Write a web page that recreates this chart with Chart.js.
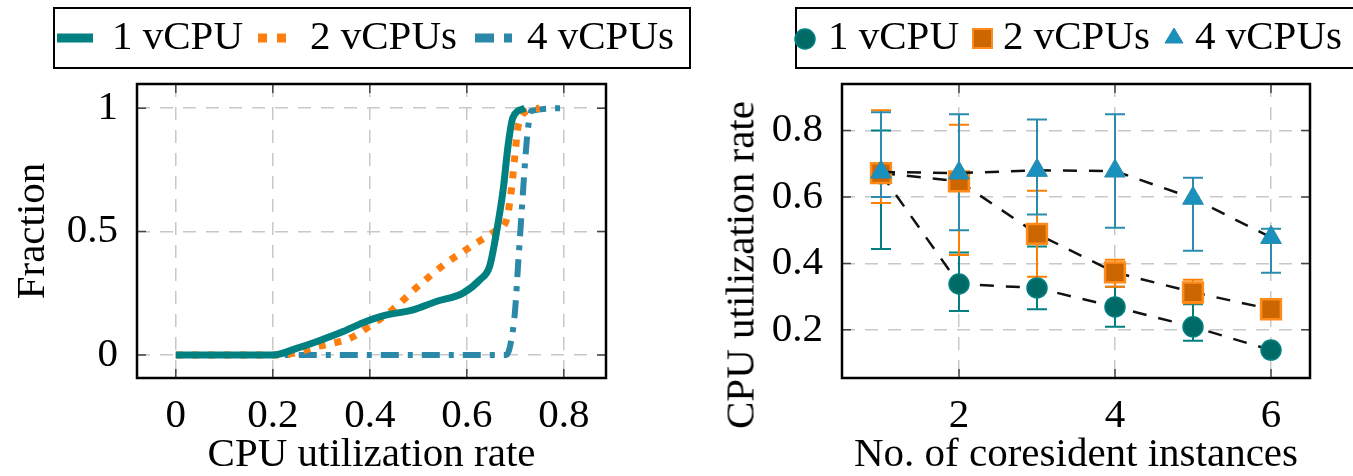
<!DOCTYPE html>
<html lang="en">
<head>
  <meta charset="UTF-8">
  <title>CPU utilization</title>
  <script src="https://cdn.jsdelivr.net/npm/chart.js@4.4.1/dist/chart.umd.min.js"></script>
  <style>
    body { margin: 0; background: #fff; }
    #wrap { position: relative; width: 1353px; height: 476px; overflow: hidden;
            font-family: "Liberation Serif", "Times New Roman", serif; }
    .box { position: absolute; top: 7px; height: 62px; border: 2px solid #000; box-sizing: border-box; }
    .lbl { position: absolute; top: 15px; font-size: 41px; line-height: 41px; white-space: nowrap; color: #000; }
    .swatch { position: absolute; }
    canvas { position: absolute; top: 0; }
    #ytitle2 { position: absolute; left: 740px; top: 265px; font-size: 41px; line-height: 41px; white-space: nowrap;
               transform: translate(-50%, -50%) rotate(-90deg); }
  </style>
</head>
<body>
<div id="wrap">
  <canvas id="cdf" style="left:0; width:676px; height:476px" width="676" height="476"></canvas>
  <canvas id="coresident" style="left:676px; width:677px; height:476px" width="677" height="476"></canvas>

  <!-- left legend -->
  <div class="box" style="left:53px; width:638px"></div>
  <svg class="swatch" style="left:0; top:0" width="700" height="80">
    <line x1="57" y1="38" x2="93" y2="38" stroke="#008080" stroke-width="9"/>
    <line x1="258" y1="38" x2="286" y2="38" stroke="#ff7f0e" stroke-width="9" stroke-dasharray="9 10"/>
    <line x1="475" y1="38" x2="512" y2="38" stroke="#2b88a8" stroke-width="9" stroke-dasharray="19 10 8 10"/>
  </svg>
  <span class="lbl" style="left:112px">1 vCPU</span>
  <span class="lbl" style="left:310px">2 vCPUs</span>
  <span class="lbl" style="left:527px">4 vCPUs</span>

  <!-- right legend -->
  <div class="box" style="left:795px; width:600px"></div>
  <svg class="swatch" style="left:780px; top:0" width="573" height="80">
    <circle cx="25" cy="39" r="10" fill="#006b66" stroke="#008080" stroke-width="1.5"/>
    <rect x="193" y="29" width="19" height="19" fill="#cc6600" stroke="#ff8c1a" stroke-width="2"/>
    <polygon points="394,28 403,43 385,43" fill="#1a90bd" stroke="#2b8cb0" stroke-width="1"/>
  </svg>
  <span class="lbl" style="left:828px">1 vCPU</span>
  <span class="lbl" style="left:1003px">2 vCPUs</span>
  <span class="lbl" style="left:1195px">4 vCPUs</span>

  <div id="ytitle2">CPU utilization rate</div>
</div>

<script>
  // ---- left: CDF of CPU utilization rate ----
  const rate1 = [0, 0.2, 0.249, 0.29, 0.345, 0.386, 0.427, 0.489, 0.537, 0.592, 0.627, 0.647, 0.661, 0.675, 0.685, 0.695, 0.72];
  const frac1 = [0, 0, 0.027, 0.054, 0.095, 0.131, 0.159, 0.183, 0.217, 0.251, 0.305, 0.359, 0.495, 0.671, 0.847, 0.962, 1.0];
  const rate2 = [0, 0.2, 0.242, 0.29, 0.324, 0.359, 0.393, 0.448, 0.503, 0.558, 0.62, 0.658, 0.682, 0.692, 0.699, 0.706, 0.73, 0.75];
  const frac2 = [0, 0, 0.007, 0.034, 0.048, 0.068, 0.108, 0.186, 0.285, 0.373, 0.454, 0.501, 0.549, 0.671, 0.806, 0.928, 0.993, 1.0];
  const rate4 = [0, 0.682, 0.689, 0.699, 0.706, 0.713, 0.72, 0.726, 0.733, 0.8];
  const frac4 = [0, 0, 0.034, 0.169, 0.373, 0.576, 0.779, 0.915, 0.989, 1.0];
  const cdfXTicks = [0, 0.2, 0.4, 0.6, 0.8];
  const cdfYTicks = [0, 0.5, 1];

  // ---- right: utilization vs. number of coresident instances ----
  const instances = [1, 2, 3, 4, 5, 6];
  const mean1 = [0.67, 0.338, 0.326, 0.269, 0.209, 0.139];
  const low1  = [0.443, 0.257, 0.262, 0.209, 0.167, 0.13];
  const high1 = [0.80, 0.433, 0.451, 0.33, 0.277, 0.148];
  const mean2 = [0.672, 0.647, 0.489, 0.373, 0.313, 0.262];
  const low2  = [0.582, 0.425, 0.36, 0.33, 0.28, 0.25];
  const high2 = [0.861, 0.817, 0.619, 0.411, 0.351, 0.272];
  const mean4 = [0.675, 0.672, 0.68, 0.678, 0.596, 0.478];
  const low4  = [0.6, 0.5, 0.547, 0.507, 0.438, 0.372];
  const high4 = [0.855, 0.849, 0.833, 0.849, 0.658, 0.504];
  const instTicks = [2, 4, 6];
  const utilTicks = [0.2, 0.4, 0.6, 0.8];

  Chart.defaults.font.family = '"Liberation Serif", "Times New Roman", serif';
  Chart.defaults.color = '#000';

  const pts = (xs, ys) => xs.map((x, i) => ({ x: x, y: ys[i] }));

  // black frame + short inward tick marks
  const frame = {
    id: 'frame',
    afterDraw(chart) {
      const { ctx, chartArea: a, scales: { x, y } } = chart;
      ctx.save();
      ctx.strokeStyle = '#444';
      ctx.lineWidth = 1.5;
      ctx.beginPath();
      x.ticks.forEach(t => {
        const px = x.getPixelForValue(t.value);
        ctx.moveTo(px, a.bottom); ctx.lineTo(px, a.bottom - 9);
        ctx.moveTo(px, a.top); ctx.lineTo(px, a.top + 9);
      });
      y.ticks.forEach(t => {
        const py = y.getPixelForValue(t.value);
        ctx.moveTo(a.left, py); ctx.lineTo(a.left + 9, py);
        ctx.moveTo(a.right, py); ctx.lineTo(a.right - 9, py);
      });
      ctx.stroke();
      ctx.strokeStyle = '#000';
      ctx.lineWidth = 2.5;
      ctx.strokeRect(a.left, a.top, a.right - a.left, a.bottom - a.top);
      ctx.restore();
    }
  };

  function axes(xmin, xmax, xt, xtitle, ymin, ymax, yt, ytitle, yWidth) {
    const grid = { color: '#c8c8c8', lineWidth: 1.5, drawTicks: false };
    const border = { display: false, dash: [13, 10] };
    return {
      x: {
        type: 'linear', min: xmin, max: xmax,
        afterBuildTicks: s => { s.ticks = xt.map(v => ({ value: v })); },
        afterFit: s => { s.height = 98; },
        ticks: { font: { size: 41 }, padding: 14, callback: v => String(v) },
        grid: grid, border: border,
        title: { display: true, text: xtitle, font: { size: 41 }, padding: { top: 0, bottom: -4 } }
      },
      y: {
        type: 'linear', min: ymin, max: ymax,
        afterBuildTicks: s => { s.ticks = yt.map(v => ({ value: v })); },
        afterFit: s => { s.width = yWidth; },
        ticks: { font: { size: 41 }, padding: 19, callback: v => String(v) },
        grid: grid, border: border,
        title: { display: !!ytitle, text: ytitle, font: { size: 41 }, padding: { top: 9, bottom: 0 } }
      }
    };
  }

  new Chart('cdf', {
    type: 'line',
    data: {
      datasets: [
        { label: '1 vCPU', data: pts(rate1, frac1), borderColor: '#008080', borderWidth: 7 },
        { label: '2 vCPUs', data: pts(rate2, frac2), borderColor: '#ff7f0e', borderWidth: 7, borderDash: [7, 9] },
        { label: '4 vCPUs', data: pts(rate4, frac4), borderColor: '#2b88a8', borderWidth: 6, borderDash: [18, 9, 5, 9] }
      ]
    },
    options: {
      responsive: false, animation: false,
      parsing: false,
      layout: { padding: { top: 84, right: 70, bottom: 0, left: 0 } },
      elements: { point: { radius: 0 }, line: { cubicInterpolationMode: 'monotone', borderCapStyle: 'butt' } },
      plugins: { legend: { display: false }, tooltip: { enabled: false } },
      scales: axes(-0.08, 0.887, cdfXTicks, 'CPU utilization rate', -0.093, 1.098, cdfYTicks, 'Fraction', 137)
    },
    plugins: [frame]
  });

  // vertical error bars drawn from each point's lo/hi through the chart scales
  const errorBars = {
    id: 'errorBars',
    beforeDatasetsDraw(chart) {
      const { ctx, scales: { x, y } } = chart;
      chart.data.datasets.forEach(ds => {
        ctx.save();
        ctx.strokeStyle = ds.errColor;
        ctx.lineWidth = 2;
        ctx.beginPath();
        ds.data.forEach(p => {
          const px = x.getPixelForValue(p.x);
          const lo = y.getPixelForValue(p.lo), hi = y.getPixelForValue(p.hi);
          ctx.moveTo(px, lo); ctx.lineTo(px, hi);
          ctx.moveTo(px - 10, lo); ctx.lineTo(px + 10, lo);
          ctx.moveTo(px - 10, hi); ctx.lineTo(px + 10, hi);
        });
        ctx.stroke();
        ctx.restore();
      });
    }
  };

  const withErr = (m, lo, hi) => instances.map((x, i) => ({ x: x, y: m[i], lo: lo[i], hi: hi[i] }));

  new Chart('coresident', {
    type: 'line',
    data: {
      datasets: [
        { label: '1 vCPU', data: withErr(mean1, low1, high1), errColor: '#008080', order: 3,
          pointStyle: 'circle', pointRadius: 10, pointBackgroundColor: '#006b66', pointBorderColor: '#008080', pointBorderWidth: 1.5 },
        { label: '2 vCPUs', data: withErr(mean2, low2, high2), errColor: '#ff8000', order: 2,
          pointStyle: 'rect', pointRadius: 14, pointBackgroundColor: '#cc6600', pointBorderColor: '#ff8c1a', pointBorderWidth: 2.5 },
        { label: '4 vCPUs', data: withErr(mean4, low4, high4), errColor: '#2b8cb0', order: 1,
          pointStyle: 'triangle', pointRadius: 12, pointBackgroundColor: '#1a90bd', pointBorderColor: '#2b8cb0', pointBorderWidth: 1 }
      ]
    },
    options: {
      responsive: false, animation: false,
      parsing: false,
      layout: { padding: { top: 84, right: 43, bottom: 0, left: 0 } },
      elements: { line: { borderColor: '#111', borderWidth: 2.5, borderDash: [14, 12], tension: 0 } },
      plugins: { legend: { display: false }, tooltip: { enabled: false } },
      scales: axes(0.5, 6.5, instTicks, 'No. of coresident instances', 0.055, 0.94, utilTicks, '', 166)
    },
    plugins: [errorBars, frame]
  });
</script>
</body>
</html>
